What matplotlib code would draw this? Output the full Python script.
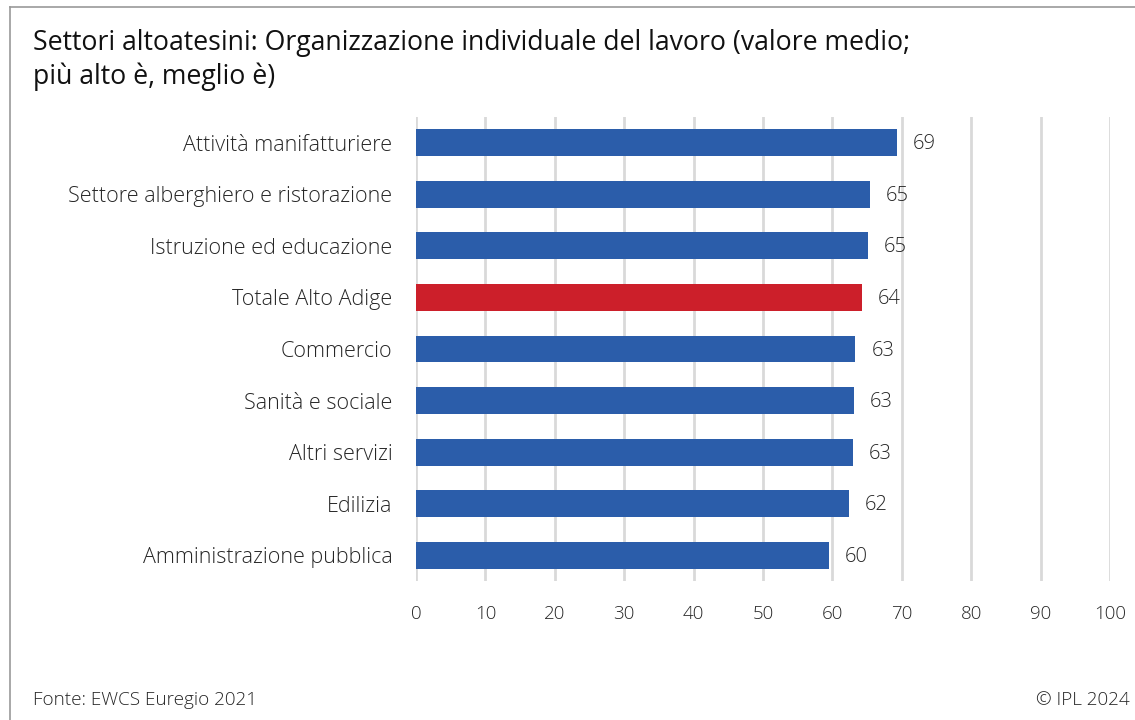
import matplotlib.pyplot as plt
from matplotlib.lines import Line2D

plt.rcParams['font.family'] = ['Open Sans', 'DejaVu Sans']

sectors = [
    "Attività manifatturiere",
    "Settore alberghiero e ristorazione",
    "Istruzione ed educazione",
    "Totale Alto Adige",
    "Commercio",
    "Sanità e sociale",
    "Altri servizi",
    "Edilizia",
    "Amministrazione pubblica",
]
values = [69.3, 65.4, 65.1, 64.3, 63.3, 63.1, 63.0, 62.4, 59.5]
highlight = "Totale Alto Adige"
x_ticks = [0, 10, 20, 30, 40, 50, 60, 70, 80, 90, 100]

blue = "#2b5daa"
red = "#cc1f2a"
text_col = "#262626"

fig = plt.figure(figsize=(11.35, 7.2), dpi=100)
ax = fig.add_axes([416 / 1135, 1 - 581 / 720, (1110 - 416) / 1135, 464 / 720])

colors = [red if s == highlight else blue for s in sectors]
pos = list(range(len(sectors)))
ax.barh(pos, values, height=0.52, color=colors, zorder=3)
for p, v in zip(pos, values):
    ax.text(v + 2.3, p + 0.03, f"{v:.0f}", va="center", ha="left",
            fontsize=14.5, color=text_col, fontweight="light")

ax.set_xlim(0, 100)
ax.set_ylim(len(sectors) - 0.5, -0.5)
ax.set_xticks(x_ticks)
ax.set_xticklabels([str(t) for t in x_ticks], fontsize=13.5, color=text_col,
                   fontweight="light")
ax.set_yticks(pos)
ax.set_yticklabels(sectors, fontsize=15.5, color=text_col, fontweight="light")
ax.tick_params(length=0, pad=17)
ax.tick_params(axis="y", pad=17)
ax.grid(axis="x", color="#d9d9d9", linewidth=2, zorder=0)
for s in ax.spines.values():
    s.set_visible(False)

# outer frame lines
fig.add_artist(Line2D([10 / 1135, 1], [1 - 7 / 720, 1 - 7 / 720], color="#999999", lw=1.2))
fig.add_artist(Line2D([10 / 1135, 10 / 1135], [0, 1 - 7 / 720], color="#999999", lw=1.2))

fig.text(33 / 1135, 1 - 60 / 720,
         "Settori altoatesini: Organizzazione individuale del lavoro (valore medio;\npiù alto è, meglio è)",
         fontsize=19.2, color="#111111", va="center", ha="left", linespacing=1.27)
fig.text(33 / 1135, 1 - 700 / 720, "Fonte: EWCS Euregio 2021", fontsize=13.6,
         color=text_col, va="center", ha="left", fontweight="light")
fig.text(1130 / 1135, 1 - 700 / 720, "© IPL 2024", fontsize=13.6,
         color=text_col, va="center", ha="right", fontweight="light")

fig.savefig("out.png", dpi=100)
